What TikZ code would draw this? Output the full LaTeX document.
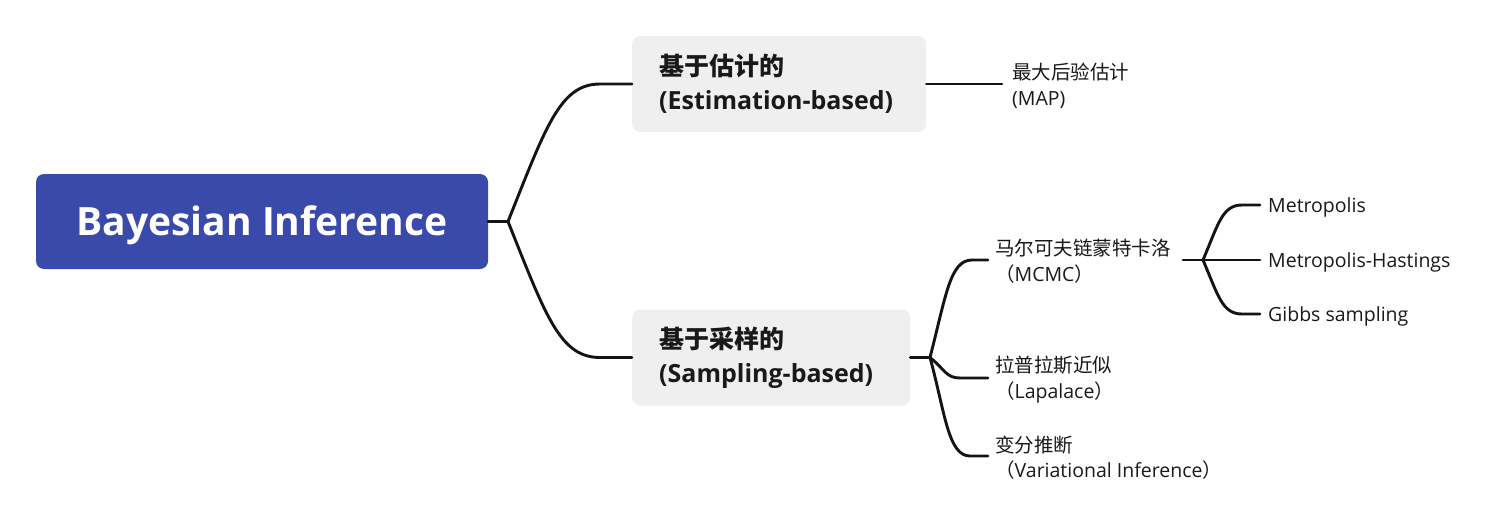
\documentclass[tikz,border=0pt]{standalone}
\usepackage{fontspec}
\setmainfont{Open Sans}
\newfontfamily\cjk{Noto Sans CJK SC}
\definecolor{rootc}{RGB}{58,74,171}
\definecolor{boxg}{RGB}{239,239,239}
\definecolor{linec}{RGB}{20,20,20}
\definecolor{txt}{RGB}{25,25,25}
\begin{document}
\begin{tikzpicture}[x=1pt,y=-1pt,
  conn/.style={line width=2.9pt, draw=linec, line cap=round},
  lvlone/.style={fill=boxg, rounded corners=8pt, inner xsep=27pt, inner ysep=0pt, align=left, anchor=west,
    minimum height=96pt, font=\fontsize{25}{34}\selectfont\bfseries, text=txt},
  child/.style={anchor=west, inner sep=0pt, align=left, font=\fontsize{19.5}{25.5}\selectfont, text=txt},
  leaf/.style={anchor=west, inner sep=0pt, font=\fontsize{19.5}{25.5}\selectfont, text=txt, text height=14pt, text depth=5pt}]
\fill[white] (0,0) rectangle (1500,527);
\useasboundingbox (0,0) rectangle (1500,527);

% nodes
\node[fill=rootc, rounded corners=8pt, minimum width=452pt, minimum height=95pt, inner sep=0pt,
  text height=27.5pt, text depth=0pt,
  text=white, font=\fontsize{39}{45}\selectfont\bfseries] (root) at (262,221.5) {Bayesian Inference};
\node[lvlone, text width=240pt] (est) at (632,84) {{\cjk 基于估计的}\\(Estimation-based)};
\node[lvlone, text width=224pt] (samp) at (632,357.5) {{\cjk 基于采样的}\\(Sampling-based)};

\node[child] (map) at (1012,86) {{\cjk 最大后验估计}\\(MAP)};
\node[child] (mcmc) at (995,261) {{\cjk 马尔可夫链蒙特卡洛}\\{\cjk （}MCMC{\cjk ）}};
\node[child] (lap) at (995,379.5) {{\cjk 拉普拉斯近似}\\{\cjk （}Lapalace{\cjk ）}};
\node[child] (vi) at (995,457.5) {{\cjk 变分推断}\\{\cjk （}Variational Inference{\cjk ）}};

\node[leaf] (met) at (1268,207.5) {Metropolis};
\node[leaf] (mh) at (1268,262.5) {Metropolis-Hastings};
\node[leaf] (gibbs) at (1268,316.5) {Gibbs sampling};

% connectors
\coordinate (j1) at (508,221.5);
\draw[conn] (root.east) -- (j1);
\draw[conn] (j1) .. controls +(38,-95) and +(-40,0) .. ([xshift=-32pt]est.west) -- (est.west);
\draw[conn] (j1) .. controls +(38,95) and +(-40,0) .. ([xshift=-32pt]samp.west) -- (samp.west);

\draw[conn] (est.east |- 0,84) -- (1002,84) coordinate (mapend);

\coordinate (j2) at (930,357.5);
\draw[conn] (samp.east) -- (j2);
\coordinate (e1) at (988,260);
\coordinate (e2) at (988,378);
\coordinate (e3) at (988,456);
\draw[conn] (j2) .. controls +(16,-62) and +(-22,0) .. (972,260) -- (e1);
\draw[conn] (j2) .. controls +(15,12) and +(-14,0) .. (960,378) -- (e2);
\draw[conn] (j2) .. controls +(15,55) and +(-22,0) .. (970,456) -- (e3);

\coordinate (m0) at (1183,260);
\coordinate (j3) at (1203,260);
\coordinate (f1) at (1260,205);
\coordinate (f2) at (1260,260);
\coordinate (f3) at (1260,314);
\draw[conn] (m0) -- (j3) -- (f2);
\draw[conn] (j3) .. controls +(15,-35) and +(-20,0) .. (1242,205) -- (f1);
\draw[conn] (j3) .. controls +(15,35) and +(-20,0) .. (1242,314) -- (f3);
\end{tikzpicture}
\end{document}
